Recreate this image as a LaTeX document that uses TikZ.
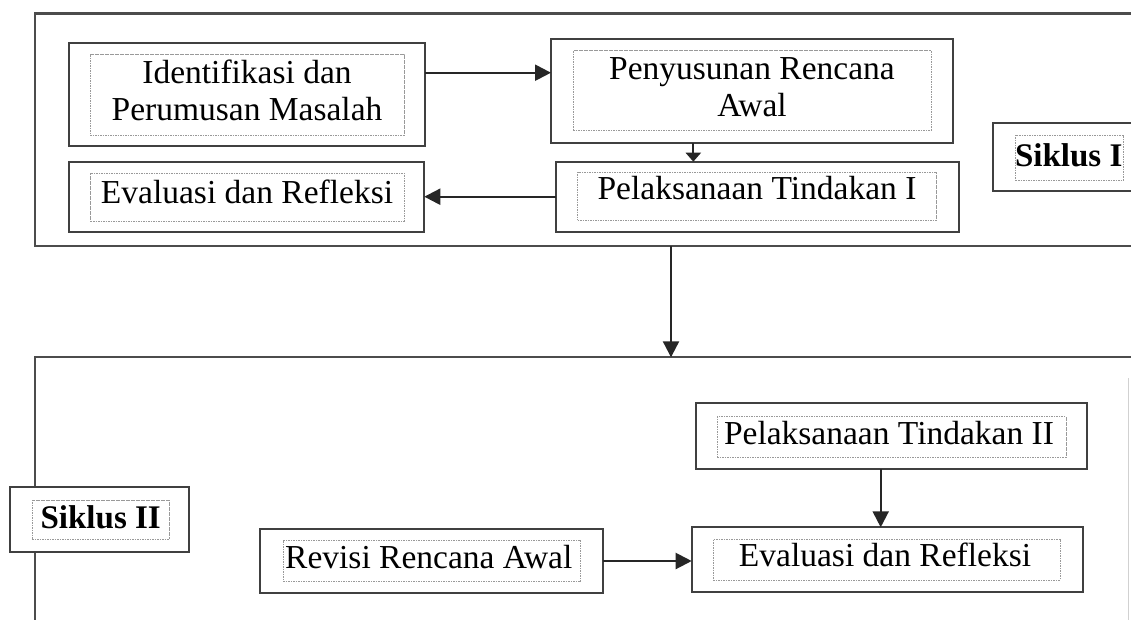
\documentclass[tikz,border=0pt]{standalone}
\usepackage{fontspec}
\setmainfont{Liberation Serif}
\usetikzlibrary{arrows.meta}
\begin{document}
\begin{tikzpicture}[x=1pt,y=-1pt,
  frame/.style={draw=black!75,line width=2.2pt,inner sep=0pt,outer sep=0pt,fill=white},
  inbox/.style={draw=black!40,dash pattern=on 1.6pt off 0.9pt,line width=0.9pt,inner sep=0pt,outer sep=0pt},
  container/.style={draw=black!70,line width=2.2pt},
  txt/.style={font=\fontsize{33.5}{37.4}\selectfont,inner sep=0pt,align=center,text=black},
  btxt/.style={font=\fontsize{33}{37.4}\selectfont\bfseries,inner sep=0pt,text=black},
  arr/.style={draw=black!85,line width=2.2pt,-{Triangle[length=16pt,width=16pt]}},
  sarr/.style={draw=black!85,line width=2.2pt,-{Triangle[length=9pt,width=15pt]}}
]
\useasboundingbox (0,0) rectangle (1131,619);
\clip (0,0) rectangle (1131,619);

% containers
\draw[container] (1135,13.5) -- (35,13.5) -- (35,246) -- (1135,246);
\draw[container] (1135,357.3) -- (35,357.3) -- (35,625);
\draw[draw=black!18,line width=1.2pt] (1128.3,378) -- (1128.3,625);
\coordinate (c1) at (671,246);
\coordinate (c2) at (671,357.3);

% boxes: outer frames
\node[frame,minimum width=356pt,minimum height=103pt] (Ident) at (247,94.2) {};
\node[frame,minimum width=355.3pt,minimum height=70pt] (EvalA) at (246.65,196.7) {};
\node[frame,minimum width=401.7pt,minimum height=104.3pt] (Penyus) at (751.85,91.15) {};
\node[frame,minimum width=403.6pt,minimum height=70pt] (PelA) at (757.5,196.7) {};
\node[frame,minimum width=146.7pt,minimum height=68pt] (SikA) at (1066.65,156.7) {};
\node[frame,minimum width=179pt,minimum height=65pt] (SikB) at (99.5,519.2) {};
\node[frame,minimum width=342.7pt,minimum height=63.4pt] (Revisi) at (431.35,561) {};
\node[frame,minimum width=390.7pt,minimum height=65.7pt] (PelB) at (891.35,436.15) {};
\node[frame,minimum width=391pt,minimum height=64.4pt] (EvalB) at (887.2,559.5) {};

% inner dotted boxes
\node[inbox,minimum width=314pt,minimum height=81pt] (IdentI) at (247,94.5) {};
\node[inbox,minimum width=313.3pt,minimum height=48pt] (EvalAI) at (247.35,197) {};
\node[inbox,minimum width=357.7pt,minimum height=79.3pt] (PenyusI) at (752.15,90.35) {};
\node[inbox,minimum width=359pt,minimum height=47.7pt] (PelAI) at (757.2,196.15) {};
\node[inbox,minimum width=107.6pt,minimum height=45pt] (SikAI) at (1069.5,157.5) {};
\node[inbox,minimum width=136.7pt,minimum height=39.3pt] (SikBI) at (100.65,519.65) {};
\node[inbox,minimum width=297.4pt,minimum height=41.7pt] (RevisiI) at (432,560.85) {};
\node[inbox,minimum width=348.7pt,minimum height=40.6pt] (PelBI) at (891.65,437) {};
\node[inbox,minimum width=346.7pt,minimum height=41pt] (EvalBI) at (886.65,559.5) {};

% texts
\node[txt,anchor=base] (tIdent) at (247,120.7) {Identifikasi dan\\Perumusan Masalah};
\node[txt,anchor=base] (tEvalA) at (247,203.3) {Evaluasi dan Refleksi};
\node[txt,anchor=base] (tPenyus) at (752,116.9) {Penyusunan Rencana\\Awal};
\node[txt,anchor=base] (tPelA) at (757,199.3) {Pelaksanaan Tindakan I};
\node[btxt,anchor=base] (tSikA) at (1068.7,166.7) {Siklus I};
\node[btxt,anchor=base] (tSikB) at (100.7,528.3) {Siklus II};
\node[txt,anchor=base west] (tRevisi) at (285,568.3) {Revisi Rencana Awal};
\node[txt,anchor=base] (tPelB) at (889,444) {Pelaksanaan Tindakan II};
\node[txt,anchor=base] (tEvalB) at (885,566.7) {Evaluasi dan Refleksi};

% connectors
\coordinate (a1) at (0,72.7);
\coordinate (a2) at (693.3,0);
\coordinate (a3) at (880.7,0);
\draw[arr] (Ident.east |- a1) -- (Penyus.west |- a1);
\draw[sarr] (a2 |- Penyus.south) -- (a2 |- PelA.north);
\draw[arr] (PelA.west) -- (EvalA.east |- PelA.west);
\draw[arr] (c1) -- (c2);
\draw[arr] (Revisi.east) -- (EvalB.west |- Revisi.east);
\draw[arr] (a3 |- PelB.south) -- (a3 |- EvalB.north);
\end{tikzpicture}
\end{document}
